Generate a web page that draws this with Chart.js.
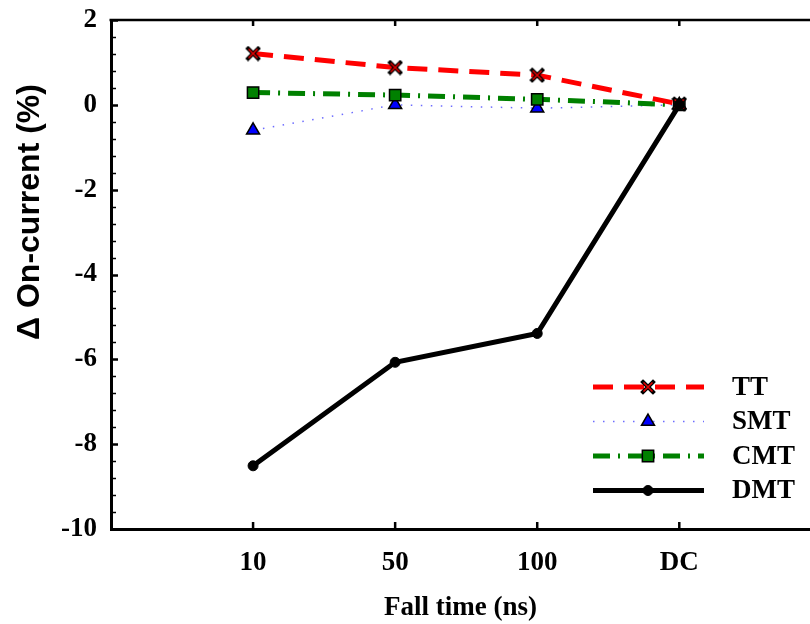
<!DOCTYPE html>
<html>
<head>
<meta charset="utf-8">
<script src="https://cdn.jsdelivr.net/npm/chart.js@4"></script>
<style>
  html, body { margin: 0; padding: 0; background: #fff; overflow: hidden; }
  canvas { display: block; }
</style>
</head>
<body>
<canvas id="chart" width="810" height="624"></canvas>
<script>
// values
const categories = ['10', '50', '100', 'DC'];
const ttValues = [1.21, 0.88, 0.70, 0.02];
const smtValues = [-0.60, 0.00, -0.08, 0.00];
const cmtValues = [0.29, 0.23, 0.13, 0.00];
const dmtValues = [-8.51, -6.07, -5.39, 0.00];
const seriesNames = ['TT', 'SMT', 'CMT', 'DMT'];

const serifFont = "'Liberation Serif', 'Times New Roman', serif";
const sansFont = "'Liberation Sans', Arial, sans-serif";

// X marker: black outline with red inside
function makeCrossMarker() {
    const c = document.createElement('canvas');
    c.width = 16; c.height = 16;
    const g = c.getContext('2d');
    g.lineCap = 'square';
    g.strokeStyle = '#000'; g.lineWidth = 4;
    g.beginPath(); g.moveTo(3, 3); g.lineTo(13, 13); g.moveTo(13, 3); g.lineTo(3, 13); g.stroke();
    g.strokeStyle = '#e00000'; g.lineWidth = 1.6; g.lineCap = 'butt';
    g.beginPath(); g.moveTo(3.5, 3.5); g.lineTo(12.5, 12.5); g.moveTo(12.5, 3.5); g.lineTo(3.5, 12.5); g.stroke();
    return c;
}
const crossMarker = makeCrossMarker();

const toPoints = vals => vals.map((v, i) => ({ x: i + 1, y: v }));

const datasets = [
    {
        label: seriesNames[0], data: toPoints(ttValues),
        borderColor: '#ff0000', borderWidth: 5, borderDash: [20, 11],
        pointStyle: crossMarker, pointRadius: 6, order: 1
    },
    {
        label: seriesNames[1], data: toPoints(smtValues),
        borderColor: 'rgba(70,70,255,0.8)', borderWidth: 1.5, borderDash: [1.5, 8.5],
        pointStyle: 'triangle', pointRadius: 7.5, pointBackgroundColor: '#0000ff',
        pointBorderColor: '#000', pointBorderWidth: 1.5, order: 3
    },
    {
        label: seriesNames[2], data: toPoints(cmtValues),
        borderColor: '#008000', borderWidth: 5, borderDash: [17, 8, 2, 8],
        pointStyle: 'rect', pointRadius: 8, pointBackgroundColor: '#008000',
        pointBorderColor: '#000', pointBorderWidth: 1.5, order: 2
    },
    {
        label: seriesNames[3], data: toPoints(dmtValues),
        borderColor: '#000', borderWidth: 5,
        pointStyle: 'circle', pointRadius: 5, pointBackgroundColor: '#000',
        pointBorderColor: '#000', pointBorderWidth: 1, order: 0
    }
];
datasets.forEach(d => {
    d.fill = false;
    d.tension = 0;
    if (!d.pointBackgroundColor) d.pointBackgroundColor = d.borderColor;
    d.pointHoverRadius = d.pointRadius;
});

// frame, inward ticks, y title and the legend inside the plot
const framePlugin = {
    id: 'frame',
    afterDraw(chart) {
        const ctx = chart.ctx;
        const x = chart.scales.x, y = chart.scales.y;
        const area = chart.chartArea;
        ctx.save();
        ctx.strokeStyle = '#000';

        // top border
        ctx.lineWidth = 2.5;
        ctx.beginPath();
        ctx.moveTo(area.left - 1.5, area.top);
        ctx.lineTo(chart.width, area.top);
        ctx.stroke();

        // x ticks, bottom and top, pointing inward
        categories.forEach((c, i) => {
            const px = x.getPixelForValue(i + 1);
            ctx.beginPath();
            ctx.moveTo(px, area.bottom); ctx.lineTo(px, area.bottom - 7);
            ctx.moveTo(px, area.top); ctx.lineTo(px, area.top + 6);
            ctx.stroke();
        });

        // y ticks every 0.4, major every 2
        for (let k = 0; k <= 30; k++) {
            const v = -10 + k * 0.4;
            const py = Math.round(y.getPixelForValue(v)) + 0.5;
            const major = k % 5 === 0;
            ctx.lineWidth = major ? 2.5 : 1.5;
            ctx.beginPath();
            ctx.moveTo(area.left, py);
            ctx.lineTo(area.left + (major ? 7 : 5), py);
            ctx.stroke();
        }

        // y title, sits above the middle of the axis like the original
        ctx.save();
        ctx.translate(30, 212);
        ctx.rotate(-Math.PI / 2);
        ctx.fillStyle = '#000';
        ctx.font = 'bold 32px ' + sansFont;
        ctx.textAlign = 'center';
        ctx.textBaseline = 'middle';
        ctx.fillText('Δ On-current (%)', 0, 0);
        ctx.restore();

        // legend
        const lx0 = 593, lx1 = 704, mx = 648, tx = 732;
        chart.data.datasets.forEach((ds, i) => {
            const ly = 387 + i * 34.5;
            ctx.save();
            ctx.strokeStyle = ds.borderColor;
            ctx.lineWidth = ds.borderWidth;
            ctx.setLineDash(ds.borderDash || []);
            ctx.beginPath();
            ctx.moveTo(lx0, ly); ctx.lineTo(lx1, ly);
            ctx.stroke();
            ctx.setLineDash([]);
            ctx.fillStyle = ds.pointBackgroundColor;
            ctx.strokeStyle = ds.pointBorderColor || ds.borderColor;
            ctx.lineWidth = ds.pointBorderWidth || 1;
            Chart.helpers.drawPoint(ctx, {
                pointStyle: ds.pointStyle, radius: ds.pointRadius,
                borderWidth: ds.pointBorderWidth || 1, rotation: 0
            }, mx, ly);
            ctx.restore();
            ctx.fillStyle = '#000';
            ctx.font = 'bold 27px ' + serifFont;
            ctx.textAlign = 'left';
            ctx.textBaseline = 'middle';
            ctx.fillText(ds.label, tx, ly + 1);
        });
        ctx.restore();
    }
};

new Chart(document.getElementById('chart'), {
    type: 'line',
    data: { datasets },
    plugins: [framePlugin],
    options: {
        responsive: false,
        animation: false,
        devicePixelRatio: 1,
        layout: { autoPadding: false, padding: { top: 20, right: 0, left: 0, bottom: 0 } },
        plugins: { legend: { display: false }, tooltip: { enabled: false } },
        scales: {
            x: {
                type: 'linear',
                min: 0,
                max: 4.92,
                afterFit: s => { s.height = 95; s.paddingLeft = 0; s.paddingRight = 0; },
                afterBuildTicks: s => { s.ticks = categories.map((c, i) => ({ value: i + 1 })); },
                grid: { display: false, drawTicks: false },
                border: { display: true, color: '#000', width: 3 },
                ticks: {
                    padding: 18,
                    color: '#000',
                    font: { family: serifFont, size: 27, weight: 'bold' },
                    callback: v => categories[v - 1]
                },
                title: {
                    display: true,
                    text: 'Fall time (ns)',
                    color: '#000',
                    font: { family: serifFont, size: 27, weight: 'bold' },
                    padding: { top: 0, bottom: 0 }
                }
            },
            y: {
                min: -10,
                max: 2,
                afterFit: s => { s.width = 111; s.paddingTop = 0; s.paddingBottom = 0; },
                grid: { display: false, drawTicks: false },
                border: { display: true, color: '#000', width: 3 },
                ticks: {
                    stepSize: 2,
                    padding: 14,
                    color: '#000',
                    font: { family: serifFont, size: 27, weight: 'bold' }
                }
            }
        }
    }
});
</script>
</body>
</html>
